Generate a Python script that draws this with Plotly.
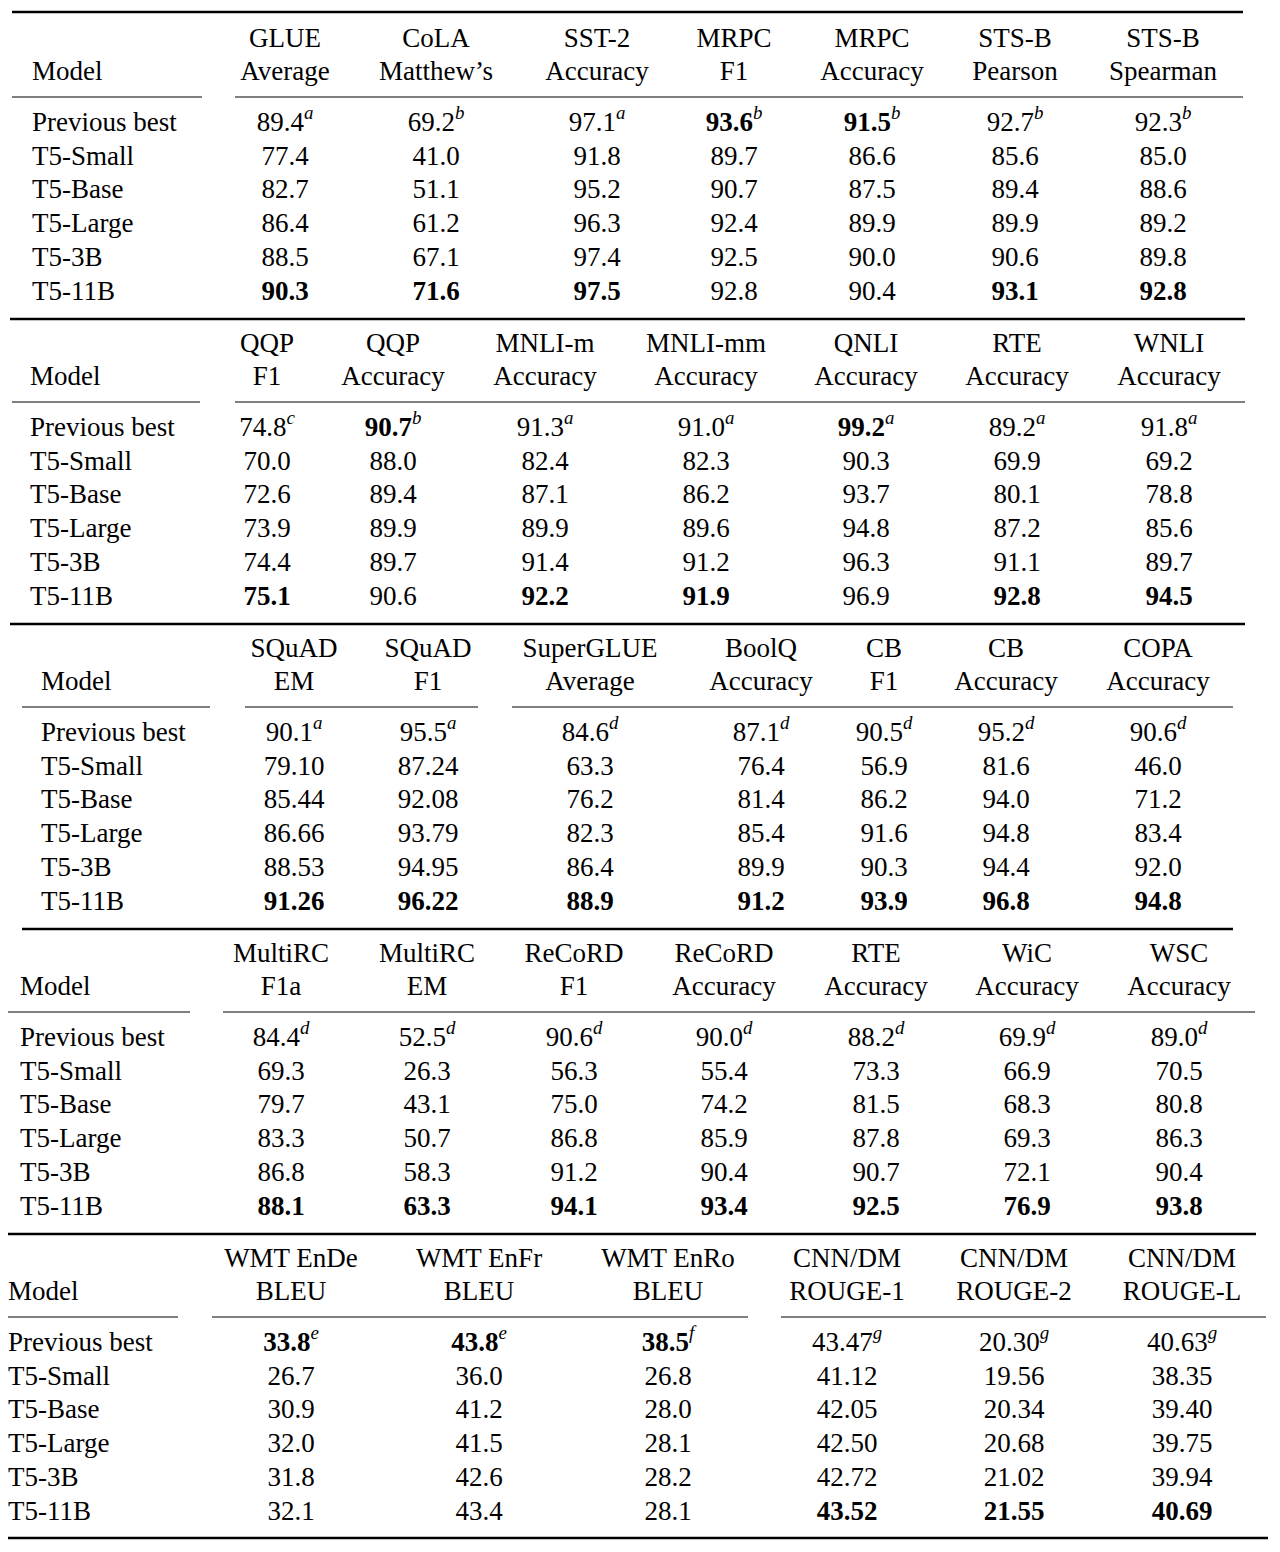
import plotly.graph_objects as go

models = ["Previous best", "T5-Small", "T5-Base", "T5-Large", "T5-3B", "T5-11B"]

# block 1
h1 = [("GLUE", "Average"), ("CoLA", "Matthew’s"), ("SST-2", "Accuracy"), ("MRPC", "F1"),
      ("MRPC", "Accuracy"), ("STS-B", "Pearson"), ("STS-B", "Spearman")]
v1 = [["89.4", "69.2", "97.1", "93.6", "91.5", "92.7", "92.3"],
      ["77.4", "41.0", "91.8", "89.7", "86.6", "85.6", "85.0"],
      ["82.7", "51.1", "95.2", "90.7", "87.5", "89.4", "88.6"],
      ["86.4", "61.2", "96.3", "92.4", "89.9", "89.9", "89.2"],
      ["88.5", "67.1", "97.4", "92.5", "90.0", "90.6", "89.8"],
      ["90.3", "71.6", "97.5", "92.8", "90.4", "93.1", "92.8"]]
s1 = ["a", "b", "a", "b", "b", "b", "b"]
bp1 = [3, 4]
bb1 = [0, 1, 2, 5, 6]

# block 2
h2 = [("QQP", "F1"), ("QQP", "Accuracy"), ("MNLI-m", "Accuracy"), ("MNLI-mm", "Accuracy"),
      ("QNLI", "Accuracy"), ("RTE", "Accuracy"), ("WNLI", "Accuracy")]
v2 = [["74.8", "90.7", "91.3", "91.0", "99.2", "89.2", "91.8"],
      ["70.0", "88.0", "82.4", "82.3", "90.3", "69.9", "69.2"],
      ["72.6", "89.4", "87.1", "86.2", "93.7", "80.1", "78.8"],
      ["73.9", "89.9", "89.9", "89.6", "94.8", "87.2", "85.6"],
      ["74.4", "89.7", "91.4", "91.2", "96.3", "91.1", "89.7"],
      ["75.1", "90.6", "92.2", "91.9", "96.9", "92.8", "94.5"]]
s2 = ["c", "b", "a", "a", "a", "a", "a"]
bp2 = [1, 4]
bb2 = [0, 2, 3, 5, 6]

# block 3
h3 = [("SQuAD", "EM"), ("SQuAD", "F1"), ("SuperGLUE", "Average"), ("BoolQ", "Accuracy"),
      ("CB", "F1"), ("CB", "Accuracy"), ("COPA", "Accuracy")]
v3 = [["90.1", "95.5", "84.6", "87.1", "90.5", "95.2", "90.6"],
      ["79.10", "87.24", "63.3", "76.4", "56.9", "81.6", "46.0"],
      ["85.44", "92.08", "76.2", "81.4", "86.2", "94.0", "71.2"],
      ["86.66", "93.79", "82.3", "85.4", "91.6", "94.8", "83.4"],
      ["88.53", "94.95", "86.4", "89.9", "90.3", "94.4", "92.0"],
      ["91.26", "96.22", "88.9", "91.2", "93.9", "96.8", "94.8"]]
s3 = ["a", "a", "d", "d", "d", "d", "d"]
bp3 = []
bb3 = [0, 1, 2, 3, 4, 5, 6]

# block 4
h4 = [("MultiRC", "F1a"), ("MultiRC", "EM"), ("ReCoRD", "F1"), ("ReCoRD", "Accuracy"),
      ("RTE", "Accuracy"), ("WiC", "Accuracy"), ("WSC", "Accuracy")]
v4 = [["84.4", "52.5", "90.6", "90.0", "88.2", "69.9", "89.0"],
      ["69.3", "26.3", "56.3", "55.4", "73.3", "66.9", "70.5"],
      ["79.7", "43.1", "75.0", "74.2", "81.5", "68.3", "80.8"],
      ["83.3", "50.7", "86.8", "85.9", "87.8", "69.3", "86.3"],
      ["86.8", "58.3", "91.2", "90.4", "90.7", "72.1", "90.4"],
      ["88.1", "63.3", "94.1", "93.4", "92.5", "76.9", "93.8"]]
s4 = ["d"] * 7
bp4 = []
bb4 = [0, 1, 2, 3, 4, 5, 6]

# block 5
h5 = [("WMT EnDe", "BLEU"), ("WMT EnFr", "BLEU"), ("WMT EnRo", "BLEU"),
      ("CNN/DM", "ROUGE-1"), ("CNN/DM", "ROUGE-2"), ("CNN/DM", "ROUGE-L")]
v5 = [["33.8", "43.8", "38.5", "43.47", "20.30", "40.63"],
      ["26.7", "36.0", "26.8", "41.12", "19.56", "38.35"],
      ["30.9", "41.2", "28.0", "42.05", "20.34", "39.40"],
      ["32.0", "41.5", "28.1", "42.50", "20.68", "39.75"],
      ["31.8", "42.6", "28.2", "42.72", "21.02", "39.94"],
      ["32.1", "43.4", "28.1", "43.52", "21.55", "40.69"]]
s5 = ["e", "e", "f", "g", "g", "g"]
bp5 = [0, 1, 2]
bb5 = [3, 4, 5]

# layout of each block: model x, column centres, underline segments
blocks = [
    (h1, v1, s1, bp1, bb1, 32, [285, 436, 597, 734, 872, 1015, 1163], [(12, 202), (235, 1243)]),
    (h2, v2, s2, bp2, bb2, 30, [267, 393, 545, 706, 866, 1017, 1169], [(12, 200), (235, 1245)]),
    (h3, v3, s3, bp3, bb3, 41, [294, 428, 590, 761, 884, 1006, 1158], [(22, 210), (245, 478), (512, 1233)]),
    (h4, v4, s4, bp4, bb4, 20, [281, 427, 574, 724, 876, 1027, 1179], [(2, 190), (223, 1255)]),
    (h5, v5, s5, bp5, bb5, 8, [291, 479, 668, 847, 1014, 1182], [(8, 178), (212, 748), (781, 1266)]),
]
rules = [(12, 12, 1243), (319, 10, 1245), (624, 10, 1245), (929, 22, 1233), (1234, 2, 1256), (1538, 2, 1268)]

FONT = dict(family="Liberation Serif, serif", size=27, color="black")
fig = go.Figure()
shapes = []
for i, (hd, vals, sups, bp, bb, mx, cx, segs) in enumerate(blocks):
    y0 = 12 + i * 305
    fig.add_trace(go.Scatter(x=cx, y=[y0 + 28] * len(cx), mode="text", text=[h[0] for h in hd],
                             textfont=FONT, textposition="middle center", hoverinfo="skip"))
    fig.add_trace(go.Scatter(x=cx, y=[y0 + 61] * len(cx), mode="text", text=[h[1] for h in hd],
                             textfont=FONT, textposition="middle center", hoverinfo="skip"))
    fig.add_trace(go.Scatter(x=[mx], y=[y0 + 61], mode="text", text=["Model"],
                             textfont=FONT, textposition="middle right", hoverinfo="skip"))
    ys = [y0 + 112 + r * 33.8 for r in range(len(models))]
    fig.add_trace(go.Scatter(x=[mx] * len(models), y=ys, mode="text", text=models,
                             textfont=FONT, textposition="middle right", hoverinfo="skip"))
    for r, row in enumerate(vals):
        txt = []
        for c, v in enumerate(row):
            t = v
            if (r == 0 and c in bp) or (r == 5 and c in bb):
                t = "<b>" + t + "</b>"
            if r == 0:
                t = t + "<sup><i>" + sups[c] + "</i></sup>"
            txt.append(t)
        fig.add_trace(go.Scatter(x=cx, y=[ys[r]] * len(cx), mode="text", text=txt,
                                 textfont=FONT, textposition="middle center", hoverinfo="skip"))
    for a, b in segs:
        shapes.append(dict(type="line", x0=a, x1=b, y0=y0 + 85, y1=y0 + 85,
                           xref="x", yref="y", line=dict(color="black", width=1.2)))
for y, a, b in rules:
    shapes.append(dict(type="line", x0=a, x1=b, y0=y, y1=y, xref="x", yref="y",
                       line=dict(color="black", width=2.5)))

# the page body adds an 8px margin, so the axes are offset to compensate
fig.update_layout(
    width=1280, height=1552, margin=dict(l=0, r=0, t=0, b=0),
    paper_bgcolor="white", plot_bgcolor="white", showlegend=False, shapes=shapes,
    xaxis=dict(range=[8, 1288], visible=False, fixedrange=True),
    yaxis=dict(range=[1560, 8], visible=False, fixedrange=True),
)
fig.write_html("out.html")
